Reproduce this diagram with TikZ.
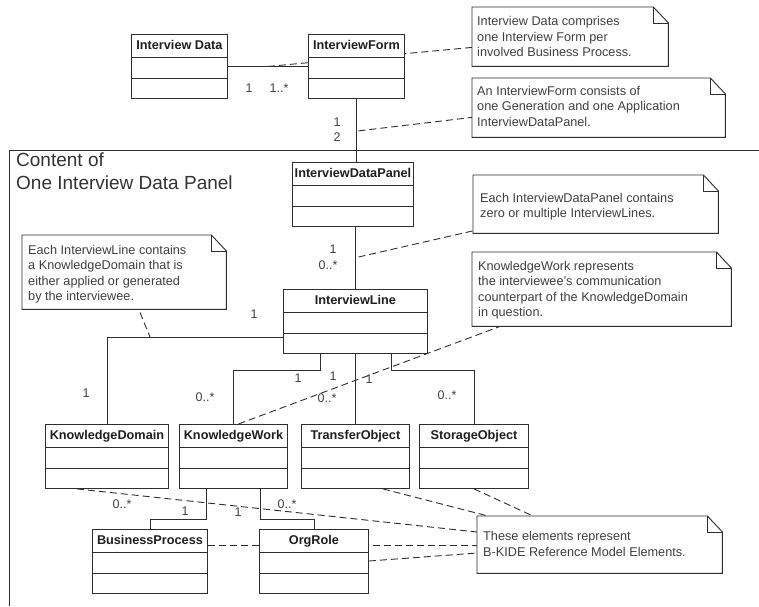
\documentclass[tikz,border=0pt]{standalone}
\usepackage{fontspec}
\setmainfont{Liberation Sans}
\usetikzlibrary{calc}
\pgfdeclarelayer{paper}
\pgfdeclarelayer{links}
\pgfsetlayers{paper,links,main}

% UML class: name, left, top, width, title
\newcommand{\umlclass}[5]{%
  \node[classbox, minimum width=#4pt] (#1) at (#2,#3) {};
  \node[classname] (#1-name) at ($(#1.north)+(0,15.8)$) {#5};
  \draw[ln] ($(#1.north west)+(0,23.5)$) -- ($(#1.north east)+(0,23.5)$)
            ($(#1.north west)+(0,44)$) -- ($(#1.north east)+(0,44)$);
}
% UML note with folded corner: name, left, top, width, height
\newcommand{\umlnote}[5]{%
  \node[notebox, minimum width=#4pt, minimum height=#5pt] (#1) at (#2,#3) {};
  \draw[ln, fill=white] (#1.north west) -- ($(#1.north east)+(-15,0)$)
     -- ($(#1.north east)+(0,16)$) -- (#1.south east) -- (#1.south west) -- cycle;
  \draw[ln] ($(#1.north east)+(-15,0)$) -- ($(#1.north east)+(-15,16)$)
     -- ($(#1.north east)+(0,16)$);
}

\begin{document}
\begin{tikzpicture}[x=1pt, y=-1pt,
  ln/.style={draw=black!82, line width=0.9pt},
  dsh/.style={draw=black!82, line width=0.9pt, dash pattern=on 7pt off 4pt},
  classbox/.style={ln, fill=white, minimum height=64pt, inner sep=0pt, anchor=north west},
  classname/.style={font=\fontsize{12.7}{14}\selectfont\bfseries, text=black!88, inner sep=0pt, anchor=base},
  notebox/.style={inner sep=0pt, anchor=north west},
  notetext/.style={font=\fontsize{12.7}{15.3}\selectfont, text=black!75, align=left, inner sep=0pt, anchor=north west},
  mult/.style={font=\fontsize{12.5}{14}\selectfont, text=black!75, inner sep=0pt},
  frametitle/.style={font=\fontsize{19}{23}\selectfont, text=black!80, align=left, inner sep=0pt, anchor=north west},
]
\begin{pgfonlayer}{paper}
  \fill[white] (0,0) rectangle (759,606);
\end{pgfonlayer}
\useasboundingbox (0,0) rectangle (759,606);

% frame around the panel content
\draw[ln] (759,150) -- (9,150) -- (9,606);
\node[frametitle] (frame-title) at (16,153) {Content of\\One Interview Data Panel};

% ---- classes ----
\umlclass{idata}{131}{34}{96}{Interview Data}
\umlclass{iform}{308}{34}{96}{InterviewForm}
\umlclass{idp}{292}{162}{121}{InterviewDataPanel}
\umlclass{il}{283}{289}{144}{InterviewLine}
\umlclass{kd}{45}{424}{123}{KnowledgeDomain}
\umlclass{kw}{179}{424}{108}{KnowledgeWork}
\umlclass{to}{301}{424}{108}{TransferObject}
\umlclass{so}{419}{424}{109}{StorageObject}
\umlclass{bp}{92}{529}{115}{BusinessProcess}
\umlclass{or}{259}{529}{109}{OrgRole}

% ---- notes ----
\umlnote{n1}{472}{7}{196}{59}
\node[notetext] (n1-text) at (477,16.5) {Interview Data comprises\\one Interview Form per\\involved Business Process.};
\umlnote{n2}{472}{78}{253}{59}
\node[notetext] (n2-text) at (477,86) {An InterviewForm consists of\\one Generation and one Application\\InterviewDataPanel.};
\umlnote{n3}{473}{175}{245}{58}
\node[notetext] (n3-text) at (480,193) {Each InterviewDataPanel contains\\zero or multiple InterviewLines.};
\umlnote{n4}{472}{252}{259}{74}
\node[notetext] (n4-text) at (478,261) {KnowledgeWork represents\\the interviewee's communication\\counterpart of the KnowledgeDomain\\in question.};
\umlnote{n5}{22}{235}{204}{74}
\node[notetext] (n5-text) at (28,245) {Each InterviewLine contains\\a KnowledgeDomain that is\\either applied or generated\\by the interviewee.};
\umlnote{n6}{477}{516}{245}{57}
\node[notetext] (n6-text) at (483,531.5) {These elements represent\\B-KIDE Reference Model Elements.};

% ---- associations ----
\coordinate (a-df) at ($(idata.east)!0.5!(iform.west)$);
\coordinate (a-fp) at ($(iform.south)+(0,32)$);
\coordinate (a-pl) at ($(il.north)+(0,-32)$);
\coordinate (a-ld) at (150,337);
\draw[ln] (idata.east) -- (iform.west);
\draw[ln] (iform.south) -- (iform.south |- idp.north);
\draw[ln] (idp.south -| il.north) -- (il.north);
\draw[ln] ($(il.south west)+(0,-16)$) -| (kd.north);
\draw[ln] ($(il.south)+(-35,0)$) -- ++(0,17) -| (kw.north);
\draw[ln] (il.south) -- (il.south |- to.north);
\draw[ln] ($(il.south)+(36,0)$) -- ++(0,17) -| (so.north);
\draw[ln] ($(kw.south)+(-27,0)$) -- ++(0,31) -| (bp.north);
\draw[ln] ($(kw.south)+(27,0)$) -- ++(0,31) -| (or.north);

% ---- dashed note links, kept behind the class boxes ----
\begin{pgfonlayer}{links}
\draw[dsh] (a-df) -- ($(n1.south west)+(0,-19)$);
\draw[dsh] ($(a-fp)+(2,0)$) -- ($(n2.south west)+(0,-20)$);
\draw[dsh] ($(a-pl)+(3,0)$) -- ($(n3.south west)+(2,-3)$);
\draw[dsh] ($(kw.north)+(5,0)$) -- ($(n4.south west)+(28,0)$);
\draw[dsh] ($(n5.south west)+(118,3)$) -- (a-ld);
\draw[dsh] ($(kd.south west)+(32,0)$) -- ($(n6.north west)+(0,16)$);
\draw[dsh] ($(to.south east)+(-27,0)$) -- ($(n6.north west)+(11,0)$);
\draw[dsh] ($(so.south west)+(55,0)$) -- ($(n6.north west)+(56,0)$);
\draw[dsh] ($(bp.north east)+(0,16)$) -- ($(n6.north west)+(0,29)$);
\draw[dsh] ($(or.north east)+(0,32)$) -- ($(n6.north west)+(0,37)$);
\end{pgfonlayer}

% ---- multiplicities ----
\node[mult] (m1) at (249,88) {1};
\node[mult] (m2) at (279,88) {1..*};
\node[mult] (m3) at (337,122) {1};
\node[mult] (m4) at (337,137) {2};
\node[mult] (m5) at (333,249) {1};
\node[mult] (m6) at (328,265) {0..*};
\node[mult] (m7) at (254,314) {1};
\node[mult] (m8) at (86,393) {1};
\node[mult] (m9) at (298,378) {1};
\node[mult] (m10) at (205,397) {0..*};
\node[mult] (m11) at (333,376) {1};
\node[mult] (m12) at (327,398) {0..*};
\node[mult] (m13) at (369,379) {1};
\node[mult] (m14) at (447,395) {0..*};
\node[mult] (m15) at (122,504) {0..*};
\node[mult] (m16) at (185,511) {1};
\node[mult] (m17) at (238,512) {1};
\node[mult] (m18) at (287,504) {0..*};
\end{tikzpicture}
\end{document}
